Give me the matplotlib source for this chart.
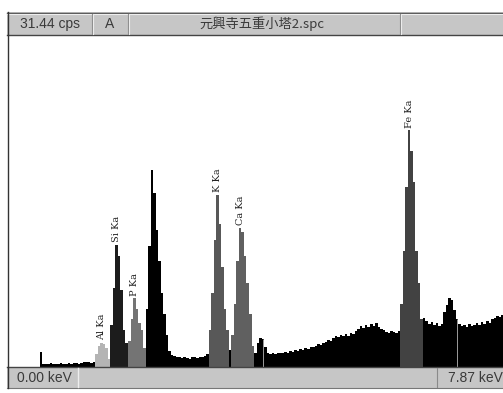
import matplotlib
matplotlib.use('Agg')
import matplotlib.pyplot as plt
from matplotlib.patches import Rectangle
from matplotlib.lines import Line2D
import numpy as np

# ---------------- data ----------------
full_scale_cps = 31.44
e_min, e_max = 0.0, 7.87
channel_width_kev = 0.04

counts_cps = (
    [0.0] * 13 +
    [1.4] +
    [0.3, 0.25, 0.3, 0.35, 0.3, 0.3, 0.25, 0.35, 0.3, 0.3, 0.35, 0.3, 0.4, 0.35, 0.3, 0.35, 0.45, 0.5] +
    [0.45, 0.4, 0.5] +
    [1.2, 2.0, 2.3, 2.2, 1.8, 0.8] +                          # Al
    [4.0, 7.5, 11.55, 10.5, 7.3, 3.5, 2.3] +                  # Si
    [2.5, 4.5, 6.5, 5.5, 4.2, 3.5, 1.8] +                     # P
    [5.5, 11.5, 18.65, 16.5, 13.0, 10.0, 7.0, 5.0, 3.0, 1.5] +  # S / Pb M
    [1.1, 1.0, 0.95, 0.9, 0.85, 0.9, 0.85, 0.8, 0.9, 0.95, 0.85, 0.95, 0.9, 1.05, 1.2] +
    [3.5, 7.0, 12.0, 16.3, 13.5, 9.5, 5.5, 3.5] +             # K
    [1.6] +
    [3.0, 6.0, 10.0, 13.2, 12.8, 10.5, 8.0, 5.0, 2.0] +       # Ca
    [1.3, 2.3, 2.75, 2.65, 1.9, 1.3] +
    [1.25, 1.3, 1.2, 1.3, 1.35, 1.3, 1.4, 1.35, 1.5, 1.45] +
    [1.6, 1.55, 1.7, 1.65, 1.8, 1.7, 1.9, 1.85, 2.0, 2.2, 2.1, 2.3] +
    [2.4, 2.6, 2.5, 2.7, 2.9, 2.8, 3.0, 2.9, 3.1, 2.95, 3.2, 3.1] +
    [3.4, 3.6, 3.9, 3.7, 4.0, 3.8, 4.1, 3.9, 4.2, 3.8, 3.6] +
    [3.5, 3.3, 3.2, 3.4, 3.3, 3.2, 3.4] +
    [6.0, 11.0, 17.0, 22.4, 20.5, 17.5, 11.0, 8.0, 4.5] +     # Fe
    [4.6] +
    [4.4, 4.1, 4.3, 4.0, 4.2, 3.9, 4.1] +
    [5.2, 5.9, 6.5, 6.3, 5.4, 4.5] +
    [4.1, 3.9, 4.0, 3.8, 4.1, 3.9, 4.0, 4.2, 4.0, 4.3, 4.1, 4.4, 4.2, 4.5, 4.6, 4.8, 4.7, 4.9]
)

roi_labels = ['Al Ka', 'Si Ka', 'P Ka', 'K Ka', 'Ca Ka', 'Fe Ka']
roi_start_ch = [35, 41, 48, 80, 89, 156]
roi_end_ch = [41, 48, 55, 88, 98, 165]
roi_colors = ['#b4b4b4', '#1c1c1c', '#747474', '#585858', '#606060', '#424242']

marker_kev = [4.06, 7.14]

header_cps = '31.44 cps'
header_mode = 'A'
header_file = '元興寺五重小塔2.spc'
footer_left = '0.00 keV'
footer_right = '7.87 keV'

# ---------------- figure ----------------
W, H = 503, 393
fig = plt.figure(figsize=(W / 100, H / 100), dpi=100)
fig.patch.set_facecolor('white')

def fx(x):
    return x / W

def fy(y):
    return 1 - y / H

counts = np.array(counts_cps)
edges = e_min + channel_width_kev * np.arange(len(counts) + 1)

ax = fig.add_axes([fx(7), fy(367), fx(503) - fx(7), fy(35) - fy(367)])
ax.set_xlim(e_min, e_max)
ax.set_ylim(0, full_scale_cps)
ax.axis('off')

ax.stairs(counts, edges, fill=True, color='black', lw=0)
for s, e, c in zip(roi_start_ch, roi_end_ch, roi_colors):
    ax.stairs(counts[s:e], edges[s:e + 1], fill=True, color=c, lw=0)

for mk in marker_kev:
    idx = int((mk - e_min) / channel_width_kev)
    ax.vlines(mk, 0, counts[idx], color='#9c9c9c', lw=0.7)

for lab, s, e in zip(roi_labels, roi_start_ch, roi_end_ch):
    seg = counts[s:e]
    k = s + int(np.argmax(seg))
    xc = (edges[k] + edges[k + 1]) / 2
    ax.text(xc, counts[k] + 0.25, lab, rotation=90, ha='center', va='bottom',
            fontsize=7, family='DejaVu Serif', color='#222222')

# ---------------- header ----------------
gray = '#c6c6c6'
fig.patches.append(Rectangle((fx(7), fy(35)), fx(503) - fx(7), fy(12) - fy(35),
                             transform=fig.transFigure, facecolor=gray, edgecolor='none'))
fig.lines.append(Line2D([fx(7), fx(503)], [fy(12.5), fy(12.5)], transform=fig.transFigure,
                        color='#555555', lw=1.0))
fig.lines.append(Line2D([fx(7), fx(503)], [fy(14), fy(14)], transform=fig.transFigure,
                        color='#eeeeee', lw=0.8))
fig.lines.append(Line2D([fx(7), fx(503)], [fy(35), fy(35)], transform=fig.transFigure,
                        color='#444444', lw=1.0))
for xd in [92, 128, 400]:
    fig.lines.append(Line2D([fx(xd), fx(xd)], [fy(14), fy(34)], transform=fig.transFigure,
                            color='#8a8a8a', lw=0.8))
    fig.lines.append(Line2D([fx(xd + 1.2), fx(xd + 1.2)], [fy(14), fy(34)], transform=fig.transFigure,
                            color='#ececec', lw=0.8))

tfont = ['Liberation Sans', 'DejaVu Sans']
fig.text(fx(50), fy(24), header_cps, ha='center', va='center', fontsize=10, color='#3a3a3a', family=tfont)
fig.text(fx(110), fy(24), header_mode, ha='center', va='center', fontsize=10, color='#3a3a3a', family=tfont)
fig.text(fx(262), fy(24), header_file, ha='center', va='center', fontsize=9.5, color='#3a3a3a',
         family=['Noto Sans CJK JP', 'DejaVu Sans'])

# ---------------- footer ----------------
fig.patches.append(Rectangle((fx(7), fy(388)), fx(503) - fx(7), fy(367) - fy(388),
                             transform=fig.transFigure, facecolor=gray, edgecolor='none'))
fig.lines.append(Line2D([fx(7), fx(503)], [fy(367), fy(367)], transform=fig.transFigure,
                        color='#444444', lw=1.0))
fig.lines.append(Line2D([fx(7), fx(503)], [fy(388), fy(388)], transform=fig.transFigure,
                        color='#777777', lw=0.8))
fig.lines.append(Line2D([fx(78), fx(78)], [fy(368), fy(387)], transform=fig.transFigure,
                        color='#eeeeee', lw=1.0))
fig.lines.append(Line2D([fx(437), fx(437)], [fy(368), fy(387)], transform=fig.transFigure,
                        color='#8a8a8a', lw=0.8))
fig.text(fx(17), fy(378), footer_left, ha='left', va='center', fontsize=10, color='#3a3a3a', family=tfont)
fig.text(fx(503), fy(378), footer_right, ha='right', va='center', fontsize=10, color='#3a3a3a', family=tfont)

# left border
fig.lines.append(Line2D([fx(7.5), fx(7.5)], [fy(12), fy(388)], transform=fig.transFigure,
                        color='#333333', lw=1.0))

fig.savefig('out.png', dpi=100, facecolor='white')
